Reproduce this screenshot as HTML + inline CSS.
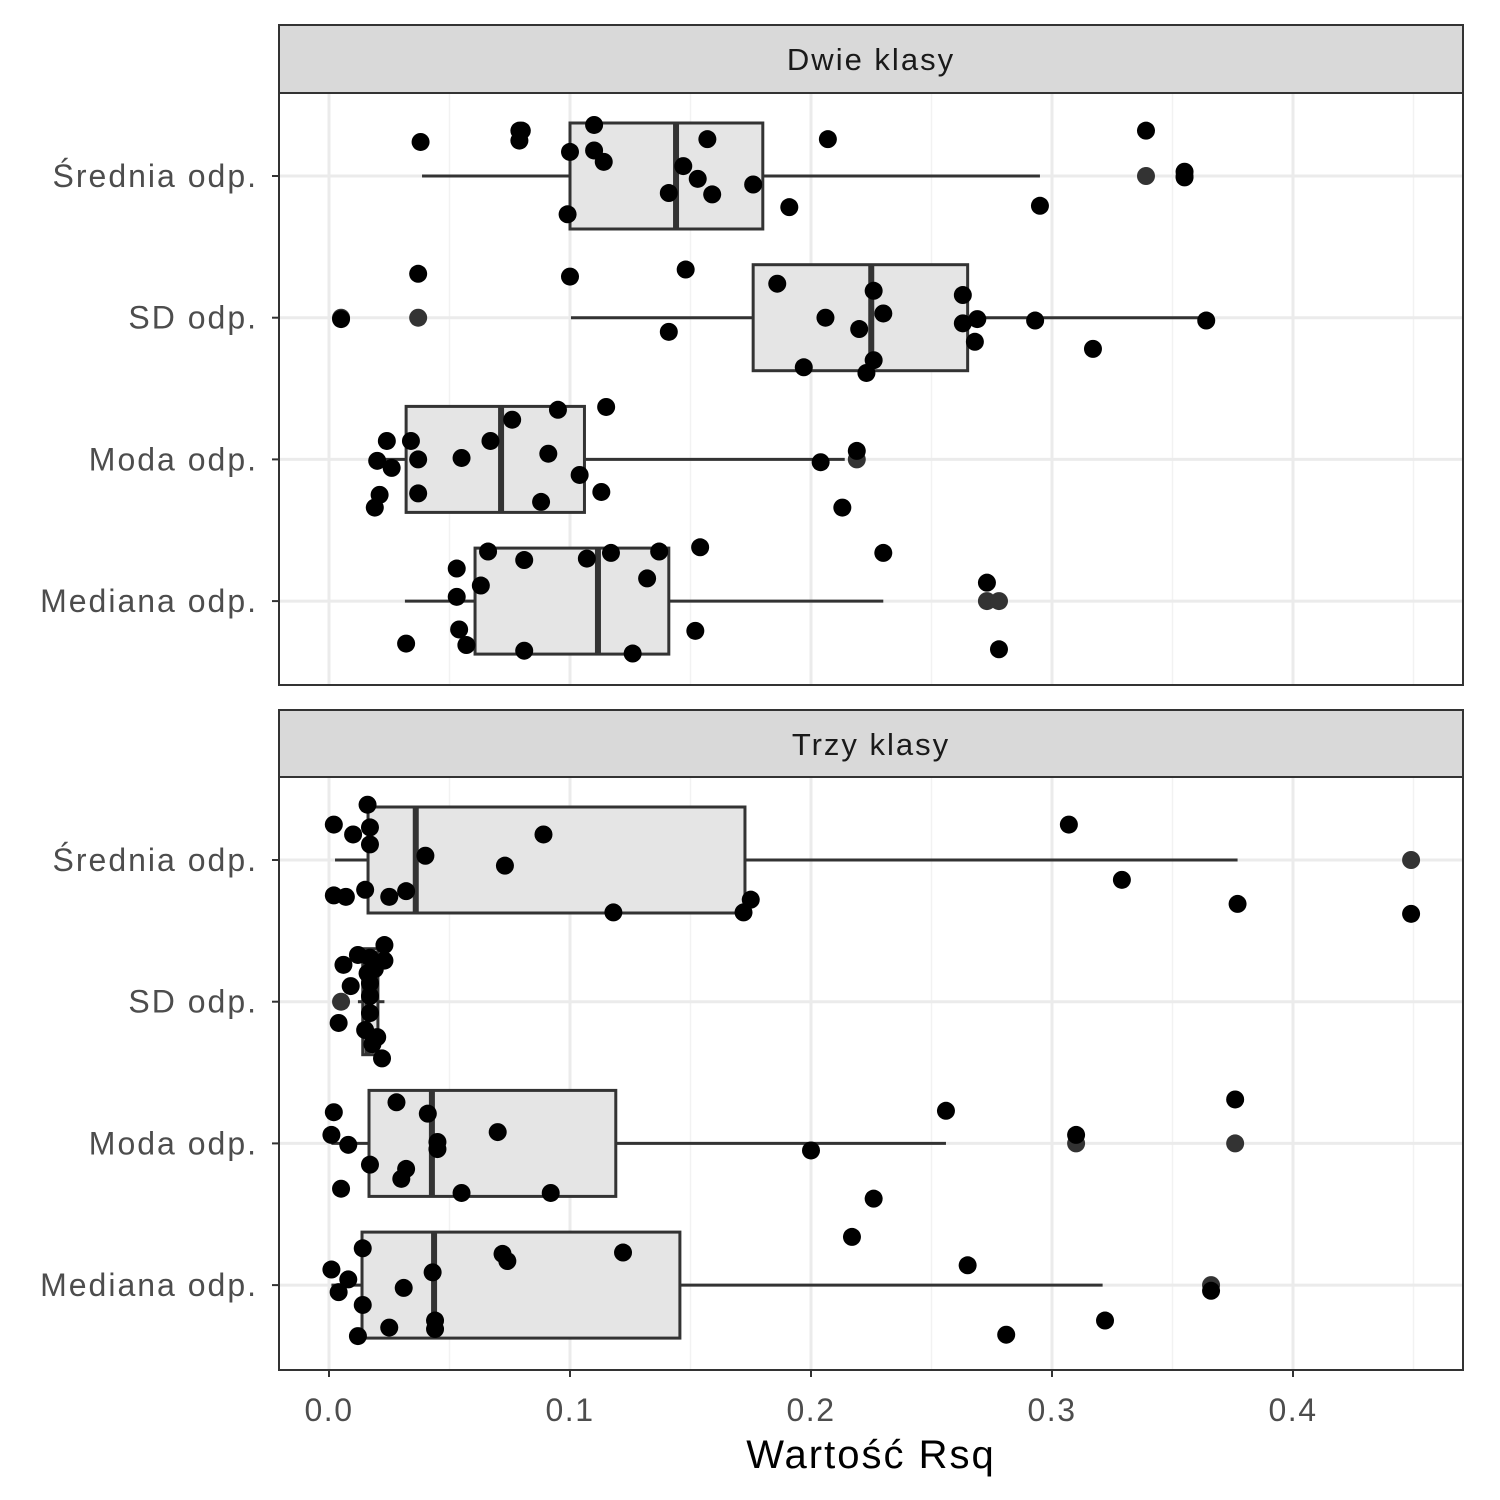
<!DOCTYPE html>
<html><head><meta charset="utf-8"><style>
html,body{margin:0;padding:0;background:#fff}
svg{display:block;font-family:"Liberation Sans",Arial,sans-serif}
</style></head><body>
<svg id="chart" width="1500" height="1500" viewBox="0 0 1500 1500"></svg>
<script>
const categories = ["Średnia odp.","SD odp.","Moda odp.","Mediana odp."];
const facets = ["Dwie klasy","Trzy klasy"];
const xTicks = [0,0.1,0.2,0.3,0.4];
const xTickLabels = ["0.0","0.1","0.2","0.3","0.4"];
// box stats per facet: [whiskerLo, q1, median, q3, whiskerHi]
const boxStats1 = [[0.0386,0.100,0.144,0.180,0.295],[0.1004,0.176,0.225,0.265,0.364],[0.019,0.032,0.0714,0.106,0.214],[0.0315,0.0606,0.1116,0.141,0.230]];
const boxStats2 = [[0.0025,0.0162,0.036,0.1726,0.377],[0.012,0.014,0.016,0.0203,0.023],[0.001,0.0166,0.0427,0.119,0.256],[0.001,0.0137,0.0436,0.1456,0.321]];
const outliers1 = [[0.339,0.355],[0.005,0.037],[0.219],[0.273,0.278]];
const outliers2 = [[0.449],[0.005],[0.310,0.376],[0.366]];
// jitter points: [value, vertical offset in category units]
const points1 = [
 [[0.038,-0.24],[0.079,-0.32],[0.080,-0.32],[0.079,-0.25],[0.110,-0.36],[0.100,-0.17],[0.110,-0.18],[0.114,-0.10],[0.157,-0.26],[0.147,-0.07],[0.153,0.02],[0.159,0.13],[0.141,0.12],[0.176,0.06],[0.191,0.22],[0.099,0.27],[0.207,-0.26],[0.339,-0.32],[0.355,-0.03],[0.355,0.01],[0.295,0.21]],
 [[0.037,-0.31],[0.100,-0.29],[0.148,-0.34],[0.186,-0.24],[0.226,-0.19],[0.263,-0.16],[0.005,0.01],[0.141,0.10],[0.206,0],[0.220,0.08],[0.230,-0.03],[0.263,0.04],[0.269,0.01],[0.293,0.02],[0.364,0.02],[0.268,0.17],[0.317,0.22],[0.197,0.35],[0.226,0.30],[0.223,0.39]],
 [[0.095,-0.35],[0.115,-0.37],[0.076,-0.28],[0.024,-0.13],[0.034,-0.13],[0.067,-0.13],[0.219,-0.06],[0.020,0.01],[0.026,0.06],[0.037,0],[0.055,-0.01],[0.091,-0.04],[0.104,0.11],[0.204,0.02],[0.021,0.25],[0.037,0.24],[0.113,0.23],[0.019,0.34],[0.088,0.30],[0.213,0.34]],
 [[0.066,-0.35],[0.081,-0.29],[0.107,-0.30],[0.117,-0.34],[0.137,-0.35],[0.154,-0.38],[0.230,-0.34],[0.053,-0.23],[0.063,-0.11],[0.132,-0.16],[0.053,-0.03],[0.273,-0.13],[0.054,0.20],[0.032,0.30],[0.057,0.31],[0.081,0.35],[0.126,0.37],[0.152,0.21],[0.278,0.34]]
];
const points2 = [
 [[0.016,-0.39],[0.002,-0.25],[0.010,-0.18],[0.017,-0.23],[0.017,-0.11],[0.089,-0.18],[0.040,-0.03],[0.073,0.04],[0.307,-0.25],[0.329,0.14],[0.015,0.21],[0.002,0.25],[0.007,0.26],[0.025,0.26],[0.032,0.22],[0.118,0.37],[0.172,0.37],[0.175,0.28],[0.377,0.31],[0.449,0.38]],
 [[0.023,-0.40],[0.012,-0.33],[0.017,-0.31],[0.023,-0.29],[0.006,-0.26],[0.019,-0.23],[0.009,-0.11],[0.017,-0.13],[0.017,-0.04],[0.017,0.08],[0.004,0.15],[0.015,0.20],[0.020,0.25],[0.022,0.40],[0.016,-0.20],[0.018,0.30]],
 [[0.028,-0.29],[0.002,-0.22],[0.041,-0.21],[0.256,-0.23],[0.376,-0.31],[0.070,-0.08],[0.001,-0.06],[0.008,0.01],[0.045,-0.01],[0.045,0.04],[0.200,0.05],[0.310,-0.06],[0.017,0.15],[0.032,0.18],[0.030,0.25],[0.005,0.32],[0.055,0.35],[0.092,0.35],[0.226,0.39]],
 [[0.014,-0.26],[0.072,-0.22],[0.074,-0.17],[0.122,-0.23],[0.217,-0.34],[0.001,-0.11],[0.008,-0.04],[0.043,-0.09],[0.004,0.05],[0.031,0.02],[0.265,-0.14],[0.366,0.04],[0.014,0.14],[0.044,0.25],[0.025,0.30],[0.044,0.31],[0.012,0.36],[0.281,0.35],[0.322,0.25]]
];

const NS="http://www.w3.org/2000/svg";
const svg=document.getElementById('chart');
const PX0=279, PX1=1463;
const xScale=v=>329+v*2410;
const STEP=141.7;
const panels=[{stripY:25,top:93,bottom:685,stats:boxStats1,outs:outliers1,pts:points1},
              {stripY:710,top:777,bottom:1370,stats:boxStats2,outs:outliers2,pts:points2}];
function mk(tag,attrs,parent){const e=document.createElementNS(NS,tag);for(const k in attrs)e.setAttribute(k,attrs[k]);(parent||svg).appendChild(e);return e;}

panels.forEach((p,pi)=>{
  const g=mk('g',{});
  
  
  const yC=i=>p.top+83+i*STEP;
  const strip=mk('rect',{x:PX0,y:p.stripY,width:PX1-PX0,height:p.top-p.stripY,fill:'#d9d9d9',stroke:'#333','stroke-width':2},g);
  
  
  const st=mk('text',{x:(PX0+PX1)/2,y:p.stripY+45,'text-anchor':'middle','font-size':31,'letter-spacing':2,fill:'#1a1a1a'},g);
  st.textContent=facets[pi];
  
  
  for(let v=0.05;v<0.5;v+=0.1){mk('line',{x1:xScale(v),x2:xScale(v),y1:p.top,y2:p.bottom,stroke:'#f2f2f2','stroke-width':1.5},g);}
  xTicks.forEach(v=>{mk('line',{x1:xScale(v),x2:xScale(v),y1:p.top,y2:p.bottom,stroke:'#ebebeb','stroke-width':3},g);});
  categories.forEach((c,i)=>{
    mk('line',{x1:PX0,x2:PX1,y1:yC(i),y2:yC(i),stroke:'#ebebeb','stroke-width':3},g);
    mk('line',{x1:272,x2:PX0,y1:yC(i),y2:yC(i),stroke:'#333','stroke-width':2},g);
    const t=mk('text',{x:258,y:yC(i)+11,'text-anchor':'end','font-size':32,'letter-spacing':2,fill:'#4d4d4d'},g);
    t.textContent=c;
    
    
  });
  p.stats.forEach((s,i)=>{
    const y=yC(i),h=53;
    const bg=mk('g',{},g);
    
    
    mk('line',{x1:xScale(s[0]),x2:xScale(s[1]),y1:y,y2:y,stroke:'#333','stroke-width':3},bg);
    mk('line',{x1:xScale(s[3]),x2:xScale(s[4]),y1:y,y2:y,stroke:'#333','stroke-width':3},bg);
    mk('rect',{x:xScale(s[1]),y:y-h,width:xScale(s[3])-xScale(s[1]),height:2*h,fill:'#e5e5e5',stroke:'#333','stroke-width':3},bg);
    mk('line',{x1:xScale(s[2]),x2:xScale(s[2]),y1:y-h,y2:y+h,stroke:'#333','stroke-width':6},bg);
    p.outs[i].forEach(v=>{
      const o=mk('circle',{cx:xScale(v),cy:y,r:9,fill:'#333'},bg);
      
      
    });
  });
  p.pts.forEach((arr,i)=>{
    arr.forEach(d=>{
      const c=mk('circle',{cx:xScale(d[0]),cy:yC(i)+d[1]*STEP,r:9,fill:'#000'},g);
      
      
    });
  });
  const border=mk('rect',{x:PX0,y:p.top,width:PX1-PX0,height:p.bottom-p.top,fill:'none',stroke:'#333','stroke-width':2},g);
  
  
});
xTicks.forEach((v,i)=>{
  mk('line',{x1:xScale(v),x2:xScale(v),y1:1370,y2:1377,stroke:'#333','stroke-width':2});
  const t=mk('text',{x:xScale(v),y:1421,'text-anchor':'middle','font-size':32,'letter-spacing':1.5,fill:'#4d4d4d'});
  t.textContent=xTickLabels[i];
  
  
});
const xt=mk('text',{x:871,y:1468,'text-anchor':'middle','font-size':40,'letter-spacing':2,fill:'#000'});
xt.textContent='Wartość Rsq';


</script>
</body></html>
